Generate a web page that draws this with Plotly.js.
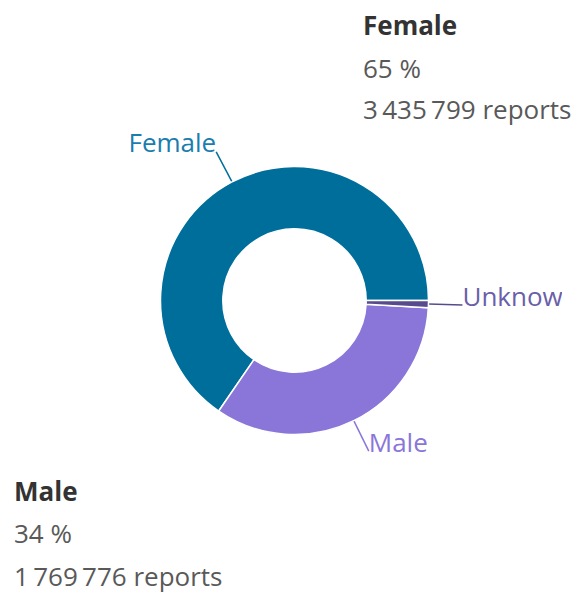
<!DOCTYPE html>
<html>
<head>
<meta charset="utf-8">
<script src="https://cdn.plot.ly/plotly-3.0.1.min.js"></script>
<style>html,body{margin:0;padding:0;background:#fff;}#chart{width:588px;height:594px;}</style>
</head>
<body>
<div id="chart"></div>
<script>
// ---- data ----
const categories = ["Female", "Male", "Unknown"];
const reports = [3435799, 1769776, 45000];
const percentLabels = ["65 %", "34 %", "1 %"];
const sliceColors = ["#006e9b", "#8a76d9", "#574b8d"];
const labelColors = ["#1a7db0", "#8a76d9", "#6a5fa8"];

// ---- geometry (pixels) ----
const W = 588, H = 594;
const cx = 294.5, cy = 300.5, R = 134;
const holeFrac = 0.535;
const leaderLen = 34;
const labelDrop = 7;
const startAngle = 0; // math degrees (3 o'clock), slices run counterclockwise
const FONT = "Open Sans, Noto Sans, sans-serif";
const FS = 26;

const total = reports.reduce((a, b) => a + b, 0);
const traces = [];

// Plotly (counterclockwise): first slice occupies [rotation, rotation + v0] measured clockwise from 12 o'clock
const firstDeg = reports[0] / total * 360;
traces.push({
  type: "pie",
  labels: categories,
  values: reports,
  sort: false,
  direction: "counterclockwise",
  rotation: 90 - startAngle - firstDeg,
  hole: holeFrac,
  textinfo: "none",
  hoverinfo: "label+value+percent",
  marker: { colors: sliceColors, line: { color: "#ffffff", width: 1.5 } },
  domain: { x: [(cx - R) / W, (cx + R) / W], y: [(H - cy - R) / H, (H - cy + R) / H] },
  showlegend: false
});

let cum = 0;
categories.forEach((cat, i) => {
  const mid = startAngle + (cum + reports[i] / 2) / total * 360;
  cum += reports[i];
  const t = mid * Math.PI / 180;
  const x0 = cx + R * Math.cos(t), y0 = cy - R * Math.sin(t);
  const x1 = cx + (R + leaderLen) * Math.cos(t), y1 = cy - (R + leaderLen) * Math.sin(t);
  traces.push({
    type: "scatter", mode: "lines", x: [x0, x1], y: [y0, y1],
    line: { color: sliceColors[i], width: 1.5 }, hoverinfo: "skip", showlegend: false,
    cliponaxis: false
  });
  const left = Math.cos(t) < 0;
  traces.push({
    type: "scatter", mode: "text", x: [x1], y: [y1 + labelDrop], text: [cat],
    textposition: left ? "top left" : "top right",
    textfont: { family: FONT, size: FS, color: labelColors[i] },
    hoverinfo: "skip", showlegend: false, cliponaxis: true
  });
});

function ann(x, y, text, bold, color) {
  return {
    xref: "x", yref: "y", x: x, y: y, text: bold ? "<b>" + text + "</b>" : text,
    showarrow: false, xanchor: "left", yanchor: "middle",
    font: { family: FONT, size: FS, color: color }
  };
}
function fmt(n) { return n.toString().replace(/\B(?=(\d{3})+(?!\d))/g, "\u2009"); }

const annotations = [
  ann(361, 25, categories[0], true, "#333333"),
  ann(361, 68, percentLabels[0], false, "#595959"),
  ann(361, 109, fmt(reports[0]) + " reports", false, "#595959"),
  ann(12, 491, categories[1], true, "#333333"),
  ann(12, 533, percentLabels[1], false, "#595959"),
  ann(12, 576, fmt(reports[1]) + " reports", false, "#595959")
];

const layout = {
  width: W, height: H,
  margin: { l: 0, r: 0, t: 0, b: 0, pad: 0 },
  paper_bgcolor: "#ffffff", plot_bgcolor: "rgba(0,0,0,0)",
  showlegend: false,
  xaxis: { domain: [0, 562 / W], range: [0, 562], visible: false, fixedrange: true },
  yaxis: { domain: [0, 1], range: [H, 0], visible: false, fixedrange: true },
  annotations: annotations
};

Plotly.newPlot("chart", traces, layout, { displayModeBar: false, staticPlot: true });
</script>
</body>
</html>
